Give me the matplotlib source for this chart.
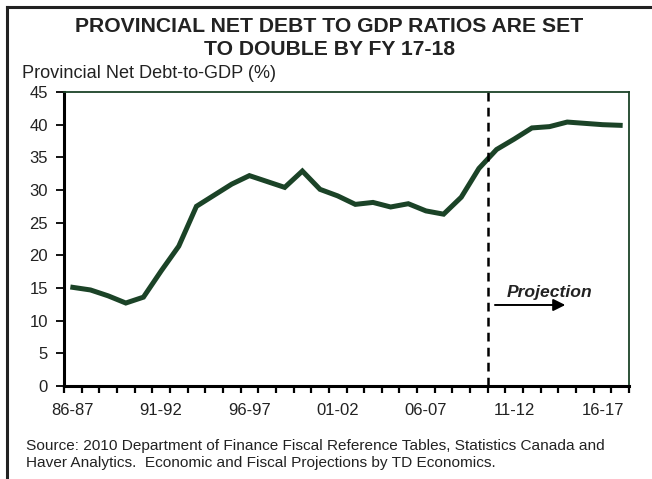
import matplotlib
matplotlib.use("Agg")
import matplotlib.pyplot as plt
from matplotlib.lines import Line2D

plt.rcParams['font.family'] = ['Liberation Sans', 'DejaVu Sans']

# fiscal years, 86-87 .. 17-18
years = ['86-87', '87-88', '88-89', '89-90', '90-91', '91-92', '92-93', '93-94',
         '94-95', '95-96', '96-97', '97-98', '98-99', '99-00', '00-01', '01-02',
         '02-03', '03-04', '04-05', '05-06', '06-07', '07-08', '08-09', '09-10',
         '10-11', '11-12', '12-13', '13-14', '14-15', '15-16', '16-17', '17-18']
debt_gdp = [15.1, 14.7, 13.8, 12.7, 13.6, 17.6, 21.4, 27.5,
            29.2, 30.9, 32.2, 31.3, 30.4, 32.9, 30.1, 29.1,
            27.8, 28.1, 27.4, 27.9, 26.8, 26.3, 28.9, 33.3,
            36.2, 37.8, 39.5, 39.7, 40.4, 40.2, 40.0, 39.9]
shown_labels = ['86-87', '91-92', '96-97', '01-02', '06-07', '11-12', '16-17']
projection_start = '10-11'
yticks = [0, 5, 10, 15, 20, 25, 30, 35, 40, 45]

green = '#1b4327'
ink = '#222222'

fig = plt.figure(figsize=(6.52, 4.79), dpi=100)
ax = fig.add_axes([64/652, 1 - 386/479, (629 - 64)/652, (386 - 92)/479])

x = list(range(len(years)))
ax.plot(x, debt_gdp, color=green, lw=3.6, solid_joinstyle='miter')

ax.set_xlim(-0.5, len(years) - 0.5)
ax.set_ylim(0, 45)
ax.set_yticks(yticks)
ax.tick_params(axis='y', direction='out', length=5.5, width=1.3, labelsize=12,
               pad=6, labelcolor=ink)

major = [years.index(s) for s in shown_labels]
ax.set_xticks(major)
ax.set_xticklabels(shown_labels)
ax.set_xticks([i - 0.5 for i in range(len(years) + 1)], minor=True)
ax.tick_params(axis='x', which='major', length=0, labelsize=12, pad=12, labelcolor=ink)
ax.tick_params(axis='x', which='minor', direction='out', length=5, width=1.6)

for side in ['left', 'bottom']:
    ax.spines[side].set_color('black')
    ax.spines[side].set_linewidth(2.2)
for side in ['top', 'right']:
    ax.spines[side].set_color(green)
    ax.spines[side].set_linewidth(1.3)

# projection divider
xp = years.index(projection_start) - 0.5
ax.axvline(xp, color='black', lw=1.8, ls=(0, (3.5, 2.5)))
ax.annotate('', xy=(28.05, 12.4), xytext=(23.75, 12.4),
            arrowprops=dict(arrowstyle='-|>', color='black', lw=1.4, mutation_scale=18))
ax.text(24.6, 13.6, 'Projection', fontsize=12.6, fontweight='bold', style='italic',
        color=ink, ha='left', va='baseline')

# titles and notes
fig.text(329/652, 1 - 32/479, 'PROVINCIAL NET DEBT TO GDP RATIOS ARE SET',
         fontsize=15.2, fontweight='bold', color=ink, ha='center', va='baseline')
fig.text(329/652, 1 - 55/479, 'TO DOUBLE BY FY 17-18',
         fontsize=15.2, fontweight='bold', color=ink, ha='center', va='baseline')
fig.text(22/652, 1 - 78/479, 'Provincial Net Debt-to-GDP (%)',
         fontsize=13.1, color=ink, ha='left', va='baseline')
fig.text(26/652, 1 - 450/479,
         'Source: 2010 Department of Finance Fiscal Reference Tables, Statistics Canada and',
         fontsize=11.1, color=ink, ha='left', va='baseline')
fig.text(26/652, 1 - 467/479,
         'Haver Analytics.  Economic and Fiscal Projections by TD Economics.',
         fontsize=11.1, color=ink, ha='left', va='baseline')

# outer frame (only left and top edges show)
fig.add_artist(Line2D([7/652, 7/652], [0, 1 - 7/479], transform=fig.transFigure,
                      color=ink, lw=2.2))
fig.add_artist(Line2D([7/652, 1], [1 - 7/479, 1 - 7/479], transform=fig.transFigure,
                      color=ink, lw=2.2))

fig.savefig('out.png', dpi=100)
